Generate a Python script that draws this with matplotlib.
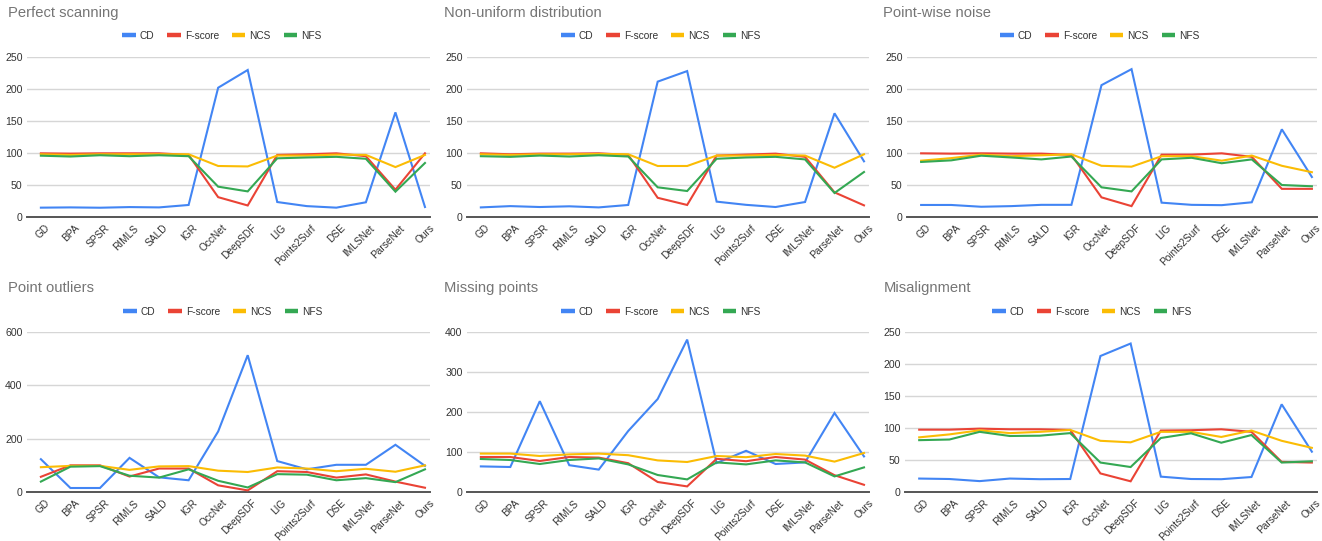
import matplotlib
matplotlib.use("Agg")
import matplotlib.pyplot as plt
from matplotlib.lines import Line2D
from matplotlib.transforms import ScaledTranslation

plt.rcParams['font.family'] = ['Liberation Sans', 'DejaVu Sans']

methods = ["GD", "BPA", "SPSR", "RIMLS", "SALD", "IGR", "OccNet", "DeepSDF",
           "LIG", "Points2Surf", "DSE", "IMLSNet", "ParseNet", "Ours"]
series_names = ["CD", "F-score", "NCS", "NFS"]
colors = ["#4285F4", "#EA4335", "#FBBC04", "#34A853"]

titles = ["Perfect scanning", "Non-uniform distribution", "Point-wise noise",
          "Point outliers", "Missing points", "Misalignment"]
ymax = [250, 250, 250, 600, 400, 250]
ystep = [50, 50, 50, 200, 100, 50]

# Perfect scanning
perfect_cd = [14.6, 15, 14.5, 15.5, 15, 18.8, 202, 229.7, 23.4, 17, 14.6, 23, 163.5, 15.6]
perfect_f = [99.5, 99, 99.5, 99.5, 99.5, 97, 31, 18, 97, 98, 99.5, 95, 42.7, 99.5]
perfect_ncs = [98, 97, 98, 98, 98, 98, 79.7, 79, 96, 96, 97.5, 97, 78, 97]
perfect_nfs = [95.8, 94.5, 96.5, 95, 96.5, 95, 47.4, 40, 91.7, 93, 94, 91, 39.6, 84.4]

# Non-uniform distribution
nonuni_cd = [15, 17, 15.6, 16.7, 15, 18.8, 211.5, 228, 24, 19, 15.6, 23.4, 162, 87]
nonuni_f = [99.5, 98, 99, 99, 99.5, 97, 30, 18.8, 96, 97.5, 99, 94, 38.5, 18.2]
nonuni_ncs = [98, 97, 98, 98, 98.5, 98, 79.7, 79.7, 96, 96, 97, 96, 77, 98]
nonuni_nfs = [95, 94, 96, 94.5, 96.5, 94.5, 46.4, 40.6, 91, 93, 94, 90, 37.5, 70.3]

# Point-wise noise
noise_cd = [18.8, 18.8, 16, 17, 19, 19, 206, 231, 22.4, 19, 18.5, 23, 137, 62.5]
noise_f = [99.5, 99, 99.5, 99, 99, 97, 30.7, 17, 97.4, 97.5, 99.5, 94, 44, 44]
noise_ncs = [88, 92, 97.4, 95, 96.4, 98, 80, 78.6, 95, 95, 88, 96, 80, 70]
noise_nfs = [86, 88.5, 95.8, 93, 90, 94.5, 46.4, 40, 90, 92.5, 84, 90, 50, 48]

# Point outliers
outlier_cd = [123, 15, 15, 128, 55, 44, 227, 513, 116, 85, 102, 102, 177, 98]
outlier_f = [57, 100, 100, 58, 88, 88, 25, 6, 78, 75, 54, 66, 39, 16]
outlier_ncs = [93, 98, 98, 83, 96, 97, 80, 75, 92, 88, 78, 87, 76, 100]
outlier_nfs = [39, 95, 97, 61, 54, 85, 42, 17, 67, 65, 44, 52, 37, 85]

# Missing points
missing_cd = [64, 62.5, 227, 67, 56, 152.5, 232.5, 381, 72.5, 103, 70, 74, 197.5, 89]
missing_f = [87.5, 87.5, 77.5, 87.5, 86, 72, 25, 14, 83, 77, 87.5, 81, 42, 18]
missing_ncs = [96, 96, 90, 94, 96, 92, 79, 75, 90, 87, 95, 91, 76, 97.5]
missing_nfs = [82.5, 80, 70, 80, 84, 69, 42.5, 31.5, 74, 69, 79, 74, 39, 61.5]

# Misalignment
misalign_cd = [21, 20.3, 17, 21, 20, 20.3, 212.5, 232, 24, 20.3, 20, 23.4, 137, 63]
misalign_f = [97.4, 97.4, 99, 98, 98, 97, 29, 16.7, 96, 96.5, 98, 94, 47, 46]
misalign_ncs = [85.4, 90, 96.4, 92, 94, 97, 80, 77.6, 94, 94, 86, 96, 80, 69]
misalign_nfs = [81, 82, 94, 87.5, 88, 92, 46, 39, 84.4, 91.7, 77, 89, 46, 48]

panels = [
    (perfect_cd, perfect_f, perfect_ncs, perfect_nfs),
    (nonuni_cd, nonuni_f, nonuni_ncs, nonuni_nfs),
    (noise_cd, noise_f, noise_ncs, noise_nfs),
    (outlier_cd, outlier_f, outlier_ncs, outlier_nfs),
    (missing_cd, missing_f, missing_ncs, missing_nfs),
    (misalign_cd, misalign_f, misalign_ncs, misalign_nfs),
]

W, H = 1322, 541
fig = plt.figure(figsize=(W / 100, H / 100), dpi=100)

# axes boxes in pixels: left, right, top, bottom
boxes = [
    (27, 430, 57, 217),
    (467, 869, 57, 217),
    (907, 1317, 57, 217),
    (27, 430, 332, 492),
    (467, 869, 332, 492),
    (905, 1317, 332, 492),
]
title_pos = [(8, 13), (444, 13), (883, 13), (8, 288), (444, 288), (884, 288)]
legend_xy = [(222, 36), (661, 36), (1100, 36), (223, 312), (661, 312), (1092, 312)]

for i, (data, box) in enumerate(zip(panels, boxes)):
    l, r, t, b = box
    ax = fig.add_axes([l / W, 1 - b / H, (r - l) / W, (b - t) / H])
    x = list(range(len(methods)))
    for vals, name, c in zip(data, series_names, colors):
        ax.plot(x, vals, color=c, lw=1.5, label=name, clip_on=False, zorder=3,
                solid_joinstyle='miter')
    ax.set_xlim(-0.47, 13.17)
    ax.set_ylim(0, ymax[i])
    ticks = list(range(0, ymax[i] + 1, ystep[i]))
    ax.set_yticks(ticks)
    ax.set_yticklabels([str(v) for v in ticks])
    ax.grid(axis='y', color='#d6d6d6', lw=1.0, zorder=0)
    ax.set_axisbelow(True)
    for s in ['top', 'right', 'left']:
        ax.spines[s].set_visible(False)
    ax.spines['bottom'].set_color('#555555')
    ax.spines['bottom'].set_linewidth(1.4)
    ax.spines['bottom'].set_zorder(2)
    ax.tick_params(axis='y', length=0, pad=3.2, labelsize=7.6, labelcolor='#333333')
    ax.tick_params(axis='x', length=0, pad=3.2, labelsize=7.3, labelcolor='#333333')
    ax.set_xticks(x)
    ax.set_xticklabels(methods, rotation=45, ha='right', va='top',
                       rotation_mode='anchor')
    off = ScaledTranslation(4 / 100, -1.5 / 100, fig.dpi_scale_trans)
    for lab in ax.get_xticklabels():
        lab.set_transform(lab.get_transform() + off)
    # title
    tx, ty = title_pos[i]
    fig.text(tx / W, 1 - ty / H, titles[i], fontsize=10.6, color='#757575',
             ha='left', va='center')
    # legend
    handles = [Line2D([], [], color=c, lw=3.2, solid_capstyle='butt') for c in colors]
    lx, ly = legend_xy[i]
    fig.legend(handles, series_names, loc='center',
               bbox_to_anchor=(lx / W, 1 - ly / H), ncol=4, frameon=False,
               fontsize=7.3, handlelength=1.3, handletextpad=0.4, columnspacing=1.3,
               labelcolor='#333333')

fig.savefig("out.png", dpi=100)
